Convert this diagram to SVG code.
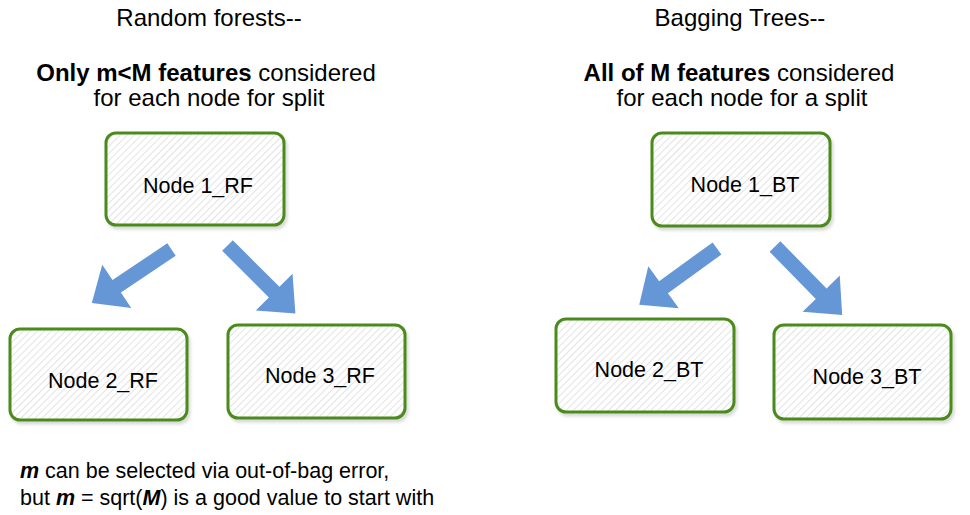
<svg xmlns="http://www.w3.org/2000/svg" width="970" height="515" viewBox="0 0 970 515">
<defs>
<pattern id="hatch" patternUnits="userSpaceOnUse" width="5" height="5" patternTransform="rotate(45)">
<rect width="5" height="5" fill="#ffffff"/>
<line x1="0" y1="0" x2="0" y2="5" stroke="#dcdcdc" stroke-width="1.6"/>
</pattern>
<filter id="sh" x="-10%" y="-10%" width="130%" height="130%">
<feDropShadow dx="2" dy="3" stdDeviation="1.5" flood-color="#000" flood-opacity="0.15"/>
</filter>
<path id="arr" d="M0,-7.5 L66,-7.5 L66,-26 L96,0 L66,26 L66,7.5 L0,7.5 Z"/>
</defs>
<style>
.node rect{fill:url(#hatch);stroke:#4c8a1c;stroke-width:3;filter:url(#sh)}
.lbl{font-family:"Liberation Sans",Arial,sans-serif;font-size:21.5px;fill:#000;text-anchor:middle}
.hdr{font-family:"Liberation Sans",Arial,sans-serif;font-size:24px;fill:#000;text-anchor:middle}
.note{font-family:"Liberation Sans",Arial,sans-serif;font-size:21.5px;fill:#000}
.arrow{fill:#6597d6}
</style>
<rect width="970" height="515" fill="#ffffff"/>

<g id="headers">
<text class="hdr" x="209" y="26">Random forests--</text>
<text class="hdr" x="206" y="81"><tspan font-weight="bold">Only m&lt;M features</tspan> considered</text>
<text class="hdr" x="209" y="106">for each node for split</text>
<text class="hdr" x="740" y="26">Bagging Trees--</text>
<text class="hdr" x="739" y="81"><tspan font-weight="bold">All of M features</tspan> considered</text>
<text class="hdr" x="742" y="106">for each node for a split</text>
</g>

<g id="node1_rf" class="node"><rect x="106" y="133" width="178" height="92" rx="10"/><text class="lbl" x="198" y="193">Node 1_RF</text></g>
<g id="node2_rf" class="node"><rect x="10" y="329" width="177" height="91" rx="10"/><text class="lbl" x="103" y="388">Node 2_RF</text></g>
<g id="node3_rf" class="node"><rect x="228" y="325" width="177" height="93" rx="10"/><text class="lbl" x="320" y="383">Node 3_RF</text></g>
<g id="node1_bt" class="node"><rect x="652" y="133" width="178" height="93" rx="10"/><text class="lbl" x="745" y="192">Node 1_BT</text></g>
<g id="node2_bt" class="node"><rect x="556" y="319" width="178" height="93" rx="10"/><text class="lbl" x="649" y="377">Node 2_BT</text></g>
<g id="node3_bt" class="node"><rect x="774" y="325" width="177" height="94" rx="10"/><text class="lbl" x="867" y="384">Node 3_BT</text></g>

<g id="connectors" class="arrow">
<use href="#arr" transform="translate(171.5,249.5) rotate(146.1)"/>
<use href="#arr" transform="translate(227.5,245.5) rotate(45)"/>
<use href="#arr" transform="translate(717,248.5) rotate(144.1)"/>
<use href="#arr" transform="translate(775,246.5) rotate(45.6)"/>
</g>

<g id="note">
<text class="note" x="20" y="478"><tspan font-weight="bold" font-style="italic">m</tspan> can be selected via out-of-bag error,</text>
<text class="note" x="20" y="505">but <tspan font-weight="bold" font-style="italic">m</tspan> = sqrt(<tspan font-weight="bold" font-style="italic">M</tspan>) is a good value to start with</text>
</g>
</svg>
